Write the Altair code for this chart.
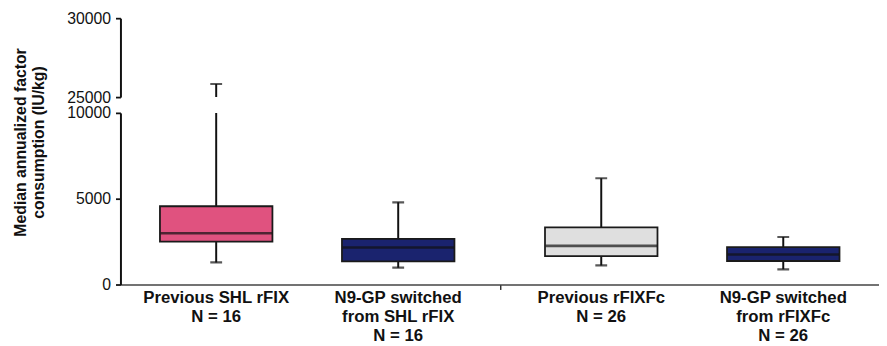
import altair as alt
import pandas as pd

# ---- data ----
labels = [
    "Previous SHL rFIX|N = 16",
    "N9-GP switched|from SHL rFIX|N = 16",
    "Previous rFIXFc|N = 26",
    "N9-GP switched|from rFIXFc|N = 26",
]
groups = ["SHL rFIX", "SHL rFIX", "rFIXFc", "rFIXFc"]
subs = ["Previous", "N9-GP", "Previous", "N9-GP"]
whisker_low = [1290, 980, 1115, 885]
q1 = [2500, 1350, 1655, 1370]
median = [2985, 2155, 2250, 1750]
q3 = [4560, 2655, 3330, 2175]
whisker_high = [25830, 4790, 6190, 2770]
colors = ["#E0527F", "#1A236E", "#DFDFDF", "#1A236E"]

df = pd.DataFrame({
    "label": labels, "group": groups, "sub": subs,
    "lo": whisker_low, "q1": q1, "med": median, "q3": q3, "hi": whisker_high,
})

FONT = "Liberation Sans"
W = 769
H_UP = 80
H_LOW = 174

xscale = alt.Scale(paddingInner=0.03, paddingOuter=0)
xenc_up = alt.X("group:N", sort=["SHL rFIX", "rFIXFc"], scale=xscale, axis=None)
xenc_low = alt.X(
    "group:N", sort=["SHL rFIX", "rFIXFc"], scale=xscale,
    axis=alt.Axis(title=None, labels=False, values=["SHL rFIX"],
                  bandPosition=1, tickOffset=6, tickSize=5,
                  tickColor="#333", tickWidth=1.5,
                  domainColor="#444", domainWidth=1.6),
)
xoff = alt.XOffset("sub:N", sort=["Previous", "N9-GP"],
                   scale=alt.Scale(paddingInner=0.382, paddingOuter=0.217))
color = alt.Color("label:N", scale=alt.Scale(domain=labels, range=colors), legend=None)


def layers(xenc, yscale, yaxis):
    base = alt.Chart(df)
    whisk = base.mark_rule(color="#111", strokeWidth=2, clip=True).encode(
        x=xenc, xOffset=xoff, y=alt.Y("lo:Q", scale=yscale, axis=yaxis), y2="hi:Q")
    box = base.mark_bar(stroke="#1a1a1a", strokeWidth=1.8, clip=True).encode(
        x=xenc, xOffset=xoff, y=alt.Y("q1:Q", scale=yscale, axis=yaxis), y2="q3:Q",
        color=color)
    med = base.mark_tick(color="#111", size=113, thickness=2.6, clip=True).encode(
        x=xenc, xOffset=xoff, y=alt.Y("med:Q", scale=yscale, axis=yaxis))
    cap_hi = base.mark_tick(color="#111", size=12, thickness=2.2, clip=True).encode(
        x=xenc, xOffset=xoff, y=alt.Y("hi:Q", scale=yscale, axis=yaxis))
    cap_lo = base.mark_tick(color="#111", size=12, thickness=2.2, clip=True).encode(
        x=xenc, xOffset=xoff, y=alt.Y("lo:Q", scale=yscale, axis=yaxis))
    return [whisk, box, med, cap_hi, cap_lo]


axis_common = dict(
    domainColor="#111", domainWidth=2, tickColor="#111", tickWidth=1.8,
    tickSize=5, labelPadding=5, labelFont=FONT, labelFontSize=16,
    labelColor="#111", grid=False,
)

up_axis = alt.Axis(values=[25000, 30000], format="d", title=None, **axis_common)
up = alt.layer(*layers(xenc_up, alt.Scale(domain=[25000, 30000], nice=False, zero=False),
                       up_axis)).properties(width=W, height=H_UP)

low_axis = alt.Axis(
    values=[0, 5000, 10000], format="d",
    title=["Median annualized factor", "consumption (IU/kg)"],
    titleFont=FONT, titleFontSize=16, titleFontWeight="bold", titleColor="#111",
    titleLineHeight=18, titleY=29.5, titlePadding=21,
    **axis_common,
)

text = alt.Chart(df).mark_text(
    baseline="alphabetic", align="center", lineBreak="|", font=FONT,
    fontSize=17, fontWeight="bold", lineHeight=19, color="#111",
).encode(x=xenc_low, xOffset=xoff, y=alt.value(H_LOW + 19), text="label:N")

low = alt.layer(
    *layers(xenc_low, alt.Scale(domain=[0, 10000], nice=False), low_axis), text
).properties(width=W, height=H_LOW)

chart = alt.vconcat(up, low, spacing=16, bounds="flush").properties(
    padding={"left": 4, "top": 0, "right": 0, "bottom": 0}
).configure_view(stroke=None).resolve_scale(x="shared")

chart.save("out.html", embed_options={"renderer": "svg", "actions": False})
